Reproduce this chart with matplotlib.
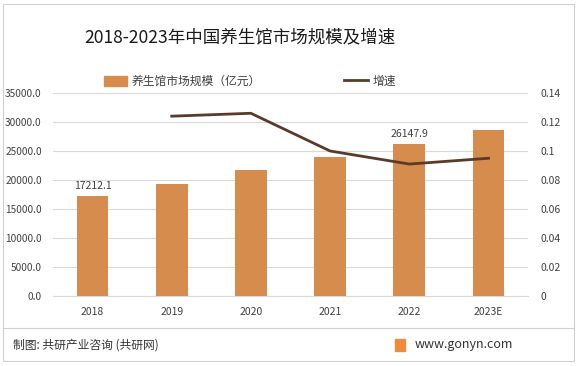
import matplotlib
matplotlib.use("Agg")
import matplotlib.pyplot as plt
from matplotlib.patches import Rectangle
from matplotlib.lines import Line2D

plt.rcParams['font.family'] = ['Noto Sans CJK SC', 'DejaVu Sans']

years = ["2018", "2019", "2020", "2021", "2022", "2023E"]
market_size = [17212.1, 19353.0, 21792.0, 23971.0, 26147.9, 28632.0]
growth_years = ["2019", "2020", "2021", "2022", "2023E"]
growth = [0.124, 0.126, 0.100, 0.091, 0.095]
left_ticks = [0, 5000, 10000, 15000, 20000, 25000, 30000, 35000]
right_ticks = [0, 0.02, 0.04, 0.06, 0.08, 0.10, 0.12, 0.14]
right_labels = ["0", "0.02", "0.04", "0.06", "0.08", "0.1", "0.12", "0.14"]
labelled = {"2018": 17212.1, "2022": 26147.9}

bar_color = "#D58C4C"
line_color = "#5A3B2A"
text_color = "#404040"

fig = plt.figure(figsize=(5.81, 3.66), dpi=100)
fig.patch.set_facecolor("white")

ax = fig.add_axes([0.091, 0.191, 0.818, 0.555])
x = list(range(len(years)))
ax.bar(x, market_size, width=0.4, color=bar_color, zorder=3)
ax.set_xlim(-0.5, len(years) - 0.5)
ax.set_ylim(0, 35000)
ax.set_yticks(left_ticks)
ax.set_yticklabels([f"{v:.1f}" for v in left_ticks])
ax.set_xticks(x)
ax.set_xticklabels(years)
ax.tick_params(axis='both', length=0, labelsize=7.5, colors=text_color)
ax.tick_params(axis='y', labelsize=7.3, pad=8)
ax.tick_params(axis='x', pad=8)
ax.grid(axis='y', color="#D9D9D9", linewidth=0.8, zorder=0)
for s in ["top", "right", "left"]:
    ax.spines[s].set_visible(False)
ax.spines["bottom"].set_color("#D9D9D9")
ax.spines["bottom"].set_linewidth(0.8)

for yr, val in labelled.items():
    i = years.index(yr)
    ax.text(i, val + 900, f"{val:.1f}", ha='center', va='bottom', fontsize=7.5, color=text_color)

ax2 = ax.twinx()
gx = [years.index(y) for y in growth_years]
ax2.plot(gx, growth, color=line_color, linewidth=2, zorder=4)
ax2.set_ylim(0, 0.14)
ax2.set_yticks(right_ticks)
ax2.set_yticklabels(right_labels)
ax2.tick_params(axis='y', length=0, labelsize=7.5, colors=text_color, pad=9)
for s in ["top", "right", "left", "bottom"]:
    ax2.spines[s].set_visible(False)

# title
fig.text(0.413, 0.898, "2018-2023年中国养生馆市场规模及增速", ha='center', va='center',
         fontsize=12.6, color="#1a1a1a")

# legend
h1 = Rectangle((0, 0), 1, 1, color=bar_color)
h2 = Line2D([0], [0], color=line_color, linewidth=2)
fig.legend([h1, h2], ["养生馆市场规模（亿元）", "增速"], loc='center',
           bbox_to_anchor=(0.43, 0.778), ncol=2, frameon=False, fontsize=8.5,
           columnspacing=7.0, handlelength=2.0, handleheight=0.9, handletextpad=0.4,
           labelcolor=text_color)

# frame and footer
fig.add_artist(Rectangle((0.006, 0.014), 0.982, 0.975, transform=fig.transFigure,
                         fill=False, edgecolor="#D0D0D0", linewidth=0.8))
fig.add_artist(Line2D([0.006, 0.988], [0.104, 0.104], transform=fig.transFigure,
                      color="#D0D0D0", linewidth=0.8))
fig.text(0.022, 0.058, "制图: 共研产业咨询 (共研网)", ha='left', va='center',
         fontsize=8.5, color="#333333")
fig.add_artist(Rectangle((0.68, 0.042), 0.017, 0.032, transform=fig.transFigure,
                         color="#F08A3C"))
fig.text(0.713, 0.058, "www.gonyn.com", ha='left', va='center',
         fontsize=9, color="#333333")

fig.savefig("out.png", dpi=100, facecolor="white")
